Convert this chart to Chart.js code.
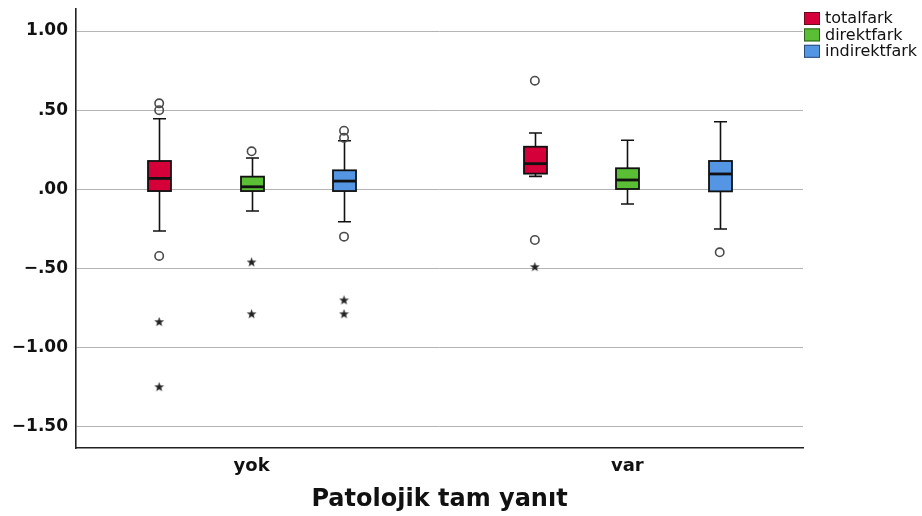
<!DOCTYPE html>
<html>
<head>
<meta charset="utf-8">
<style>
  html, body { margin: 0; padding: 0; background: #fff; }
  #wrap { width: 922px; height: 516px; position: relative; }
</style>
<script src="https://cdn.jsdelivr.net/npm/chart.js@4.4.1/dist/chart.umd.min.js"></script>
</head>
<body>
<div id="wrap"><canvas id="c"></canvas></div>
<script>
// Groups on the category axis
const groups = ['yok', 'var'];
// Series shown side by side inside each group
const seriesNames = ['totalfark', 'direktfark', 'indirektfark'];
const seriesColors = ['#D5003A', '#5BBF35', '#5596E4'];
const seriesEdges = ['#6a0a1e', '#2f5f1c', '#2c4d78'];

// Five-number summaries per group: [lower whisker, Q1, median, Q3, upper whisker]
const totalfarkBox = [[-0.263, -0.011, 0.069, 0.179, 0.446], [0.082, 0.099, 0.162, 0.269, 0.356]];
const direktfarkBox = [[-0.137, -0.011, 0.016, 0.080, 0.198], [-0.093, 0.002, 0.059, 0.133, 0.310]];
const indirektfarkBox = [[-0.205, -0.011, 0.052, 0.120, 0.307], [-0.251, -0.013, 0.097, 0.179, 0.427]];

// Outliers (circles) and extreme values (stars) per group
const totalfarkOutliers = [[0.543, 0.500, -0.421], [0.686, -0.320]];
const totalfarkExtremes = [[-0.836, -1.247], [-0.489]];
const direktfarkOutliers = [[0.240], []];
const direktfarkExtremes = [[-0.459, -0.786], []];
const indirektfarkOutliers = [[0.370, 0.325, -0.299], [-0.398]];
const indirektfarkExtremes = [[-0.699, -0.786], []];

// Value axis ticks
const yTicks = [1.0, 0.5, 0, -0.5, -1.0, -1.5];

const seriesBoxes = [totalfarkBox, direktfarkBox, indirektfarkBox];
const seriesOutliers = [totalfarkOutliers, direktfarkOutliers, indirektfarkOutliers];
const seriesExtremes = [totalfarkExtremes, direktfarkExtremes, indirektfarkExtremes];

// horizontal placement of each series within a group (in x-axis units)
const seriesOffsets = [-0.246, 0, 0.246];
const BOX_W = 23;
const CAP_W = 13;

// filled five-point star used for extreme values
function makeStar() {
  const cv = document.createElement('canvas');
  cv.width = 11; cv.height = 11;
  const c = cv.getContext('2d');
  c.fillStyle = '#222';
  c.beginPath();
  for (let i = 0; i < 10; i++) {
    const r = i % 2 === 0 ? 5.2 : 2.1;
    const a = -Math.PI / 2 + i * Math.PI / 5;
    const px = 5.5 + r * Math.cos(a), py = 5.9 + r * Math.sin(a);
    if (i === 0) c.moveTo(px, py); else c.lineTo(px, py);
  }
  c.closePath();
  c.fill();
  return cv;
}
const starImg = makeStar();

const datasets = [];
seriesNames.forEach((name, s) => {
  const circles = [], stars = [];
  groups.forEach((g, gi) => {
    const xv = gi + 1 + seriesOffsets[s];
    seriesOutliers[s][gi].forEach(v => circles.push({ x: xv, y: v }));
    seriesExtremes[s][gi].forEach(v => stars.push({ x: xv, y: v }));
  });
  datasets.push({
    label: name + ' (outliers)',
    data: circles,
    pointStyle: 'circle',
    radius: 4.2,
    borderColor: '#4a4a4a',
    borderWidth: 1.6,
    backgroundColor: 'rgba(255,255,255,0)'
  });
  datasets.push({
    label: name + ' (extremes)',
    data: stars,
    pointStyle: starImg,
    radius: 5
  });
});

const boxPlugin = {
  id: 'boxes',
  beforeDatasetsDraw(chart) {
    const { ctx, scales: { x, y } } = chart;
    ctx.save();
    seriesBoxes.forEach((boxes, s) => {
      boxes.forEach((b, gi) => {
        const cx = Math.round(x.getPixelForValue(gi + 1 + seriesOffsets[s])) + 0.5;
        const [lo, q1, med, q3, hi] = b.map(v => y.getPixelForValue(v));
        ctx.strokeStyle = '#111';
        ctx.lineWidth = 1.6;
        // whiskers
        ctx.beginPath();
        ctx.moveTo(cx, hi); ctx.lineTo(cx, q3);
        ctx.moveTo(cx, q1); ctx.lineTo(cx, lo);
        ctx.moveTo(cx - CAP_W / 2, hi); ctx.lineTo(cx + CAP_W / 2, hi);
        ctx.moveTo(cx - CAP_W / 2, lo); ctx.lineTo(cx + CAP_W / 2, lo);
        ctx.stroke();
        // box
        ctx.fillStyle = seriesColors[s];
        ctx.fillRect(cx - BOX_W / 2, q3, BOX_W, q1 - q3);
        ctx.lineWidth = 1.8;
        ctx.strokeRect(cx - BOX_W / 2, q3, BOX_W, q1 - q3);
        // median
        ctx.lineWidth = 2.8;
        ctx.beginPath();
        ctx.moveTo(cx - BOX_W / 2, med); ctx.lineTo(cx + BOX_W / 2, med);
        ctx.stroke();
      });
    });
    ctx.restore();
  },
  afterDraw(chart) {
    const { ctx } = chart;
    ctx.save();
    ctx.font = '16px "DejaVu Sans"';
    ctx.textBaseline = 'middle';
    ctx.textAlign = 'left';
    seriesNames.forEach((name, s) => {
      const top = 12 + s * 16.4;
      ctx.fillStyle = seriesColors[s];
      ctx.fillRect(804, top, 16, 13);
      ctx.strokeStyle = seriesEdges[s];
      ctx.lineWidth = 1;
      ctx.strokeRect(804.5, top + 0.5, 15, 12);
      ctx.fillStyle = '#111';
      ctx.fillText(name, 825, top + 7);
    });
    ctx.restore();
  }
};

function fmt(v) {
  const t = Math.abs(v).toFixed(2).replace(/^0/, '');
  return (v < 0 ? '\u2212' : '') + t;
}

new Chart(document.getElementById('c'), {
  type: 'scatter',
  data: { datasets },
  plugins: [boxPlugin],
  options: {
    responsive: true,
    maintainAspectRatio: false,
    animation: false,
    devicePixelRatio: 1,
    events: [],
    layout: { padding: { left: 0, right: 119, top: 9, bottom: 0 } },
    plugins: { legend: { display: false }, tooltip: { enabled: false } },
    scales: {
      x: {
        type: 'linear',
        min: 0.5326,
        max: 2.4677,
        afterBuildTicks: s => { s.ticks = groups.map((_, i) => ({ value: i + 1 })); },
        afterFit: s => { s.height = 68; s.paddingLeft = 0; s.paddingRight = 0; },
        ticks: {
          callback: v => groups[v - 1] ?? '',
          font: { family: 'DejaVu Sans', size: 18, weight: 'bold' },
          color: '#111',
          padding: 8,
          maxRotation: 0
        },
        grid: { display: false, drawTicks: false },
        border: { display: true, color: '#222', width: 1.6 },
        title: {
          display: true,
          text: 'Patolojik tam yanıt',
          font: { family: 'DejaVu Sans', size: 24, weight: 'bold' },
          color: '#111',
          padding: { top: 0, bottom: 2 }
        }
      },
      y: {
        type: 'linear',
        min: -1.634,
        max: 1.139,
        afterBuildTicks: s => { s.ticks = yTicks.map(v => ({ value: v })); },
        afterFit: s => { s.width = 76; s.paddingTop = 0; s.paddingBottom = 0; },
        ticks: {
          callback: v => fmt(v),
          font: { family: 'DejaVu Sans', size: 17, weight: 'bold' },
          color: '#111',
          padding: 8
        },
        grid: { color: '#b4b4b4', lineWidth: 1, drawTicks: false },
        border: { display: true, color: '#222', width: 1.6 }
      }
    }
  }
});
</script>
</body>
</html>
